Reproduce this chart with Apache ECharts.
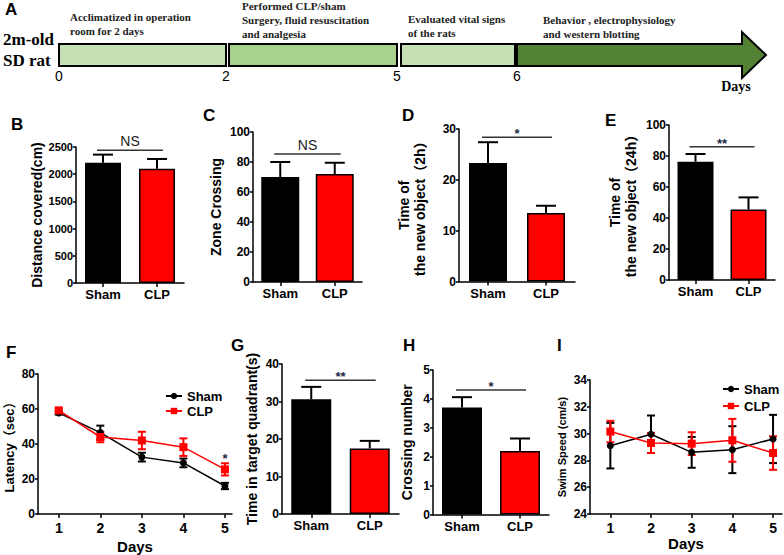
<!DOCTYPE html>
<html><head><meta charset="utf-8">
<script src="https://cdn.jsdelivr.net/npm/echarts@6/dist/echarts.min.js"></script>
<style>html,body{margin:0;padding:0;background:#fff}#c{width:784px;height:555px}</style>
</head><body><div id="c"></div>
<script>
// ---------------- DATA ----------------
const barCategories = ['Sham', 'CLP'];
const distanceMean = [2210, 2100];
const distanceSem = [150, 180];
const zoneMean = [70, 72];
const zoneSem = [10, 7.5];
const novel2hMean = [23.3, 13.5];
const novel2hSem = [4.1, 1.4];
const novel24hMean = [76.3, 45.5];
const novel24hSem = [5.0, 7.8];
const quadrantMean = [30.6, 17.5];
const quadrantSem = [3.3, 2.0];
const crossingMean = [3.7, 2.2];
const crossingSem = [0.36, 0.43];
const sigLabels = ['NS', 'NS', '*', '**', '**', '*'];
const sigLevels = [2440, 85.3, 28.4, 86, 35.7, 4.31];

const days = [1, 2, 3, 4, 5];
const latencySham = [57.8, 46.5, 32.5, 29.2, 16.0];
const latencyShamSem = [1.0, 4.0, 2.5, 2.5, 1.8];
const latencyClp = [59.2, 44.0, 42.0, 38.2, 25.5];
const latencyClpSem = [1.2, 3.0, 5.0, 5.0, 3.5];
const latencyStarDay = 5;
const speedSham = [29.1, 29.95, 28.6, 28.8, 29.6];
const speedShamSem = [1.7, 1.4, 1.15, 1.75, 1.8];
const speedClp = [30.15, 29.3, 29.25, 29.5, 28.55];
const speedClpSem = [0.8, 0.75, 0.85, 1.6, 1.25];

const timelineDays = ['0', '2', '5', '6'];
const stageText = [
  ['Acclimatized in operation', 'room for 2 days'],
  ['Performed CLP/sham', 'Surgery, fluid resuscitation', 'and analgesia'],
  ['Evaluated vital signs', 'of the rats'],
  ['Behavior , electrophysiology', 'and western blotting']
];

// ---------------- LAYOUT / STYLE ----------------
const FONT = "'Liberation Sans', Arial, 'Noto Sans CJK SC', sans-serif";
const SERIF = "'Liberation Serif', 'Times New Roman', serif";
const BLACK = '#000000', RED = '#ff0000';

const barPanels = [
  {mean: distanceMean, sem: distanceSem, max: 2500, step: 500, title: 'Distance covered(cm)', grid: {left: 76, top: 147, width: 108, height: 136}, bw: 36, gap: 28, tf: 11, nf: 14},
  {mean: zoneMean, sem: zoneSem, max: 100, step: 20, title: 'Zone Crossing', grid: {left: 253, top: 132, width: 109, height: 150}, bw: 38, gap: 29, tf: 12, nf: 14},
  {mean: novel2hMean, sem: novel2hSem, max: 30, step: 10, title: 'Time of\nthe new object（2h）', grid: {left: 459, top: 129, width: 116, height: 152.5}, bw: 38, gap: 31, tf: 12, nf: 14},
  {mean: novel24hMean, sem: novel24hSem, max: 100, step: 20, title: 'Time of\nthe new object（24h）', grid: {left: 669, top: 125, width: 106, height: 155}, bw: 36, gap: 30, tf: 12, nf: 14},
  {mean: quadrantMean, sem: quadrantSem, max: 40, step: 10, title: 'Time in target quadrant(s)', grid: {left: 282, top: 364, width: 117, height: 150}, bw: 40, gap: 22, tf: 12, nf: 14},
  {mean: crossingMean, sem: crossingSem, max: 5, step: 1, title: 'Crossing number', grid: {left: 433, top: 370, width: 116, height: 144.5}, bw: 40, gap: 18, tf: 12, nf: 14}
];

const grids = [], xAxes = [], yAxes = [], series = [];
const axisLineStyle = {color: BLACK, width: 1.5};

function yAxisCfg(gi, min, max, step, name, gap, tf, nf) {
  return {
    type: 'value', gridIndex: gi, min: min, max: max, interval: step,
    axisLine: {show: true, lineStyle: axisLineStyle},
    axisTick: {show: true, length: 3, lineStyle: axisLineStyle},
    axisLabel: {color: BLACK, fontSize: tf, fontWeight: 'bold', fontFamily: FONT, margin: 3, formatter: v => String(v)},
    splitLine: {show: false},
    name: name, nameLocation: 'middle', nameRotate: 90, nameGap: gap,
    nameTextStyle: {color: BLACK, fontSize: nf, fontWeight: 'bold', fontFamily: FONT, lineHeight: 16}
  };
}

function barErr(params, api) {
  const x = api.value(0), m = api.value(1), s = api.value(2);
  const p0 = api.coord([x, m]), p1 = api.coord([x, m + s]);
  const st = {stroke: BLACK, lineWidth: 2};
  return {type: 'group', children: [
    {type: 'line', shape: {x1: p0[0], y1: p0[1], x2: p1[0], y2: p1[1]}, style: st},
    {type: 'line', shape: {x1: p1[0] - 10, y1: p1[1], x2: p1[0] + 10, y2: p1[1]}, style: st}
  ]};
}

barPanels.forEach((p, i) => {
  grids.push(Object.assign({containLabel: false}, p.grid));
  xAxes.push({
    type: 'category', gridIndex: i, data: barCategories,
    axisLine: {show: true, lineStyle: axisLineStyle},
    axisTick: {show: true, alignWithLabel: true, length: 4, lineStyle: axisLineStyle},
    axisLabel: {color: BLACK, fontSize: 13, fontWeight: 'bold', fontFamily: FONT, margin: 5}
  });
  yAxes.push(yAxisCfg(i, 0, p.max, p.step, p.title, p.gap, p.tf, p.nf));
  series.push({
    type: 'bar', xAxisIndex: i, yAxisIndex: i, barWidth: p.bw, z: 2,
    data: p.mean.map((v, k) => ({value: v, itemStyle: {color: k === 0 ? BLACK : RED, borderColor: BLACK, borderWidth: 1.5}})),
    emphasis: {disabled: true}
  });
  series.push({
    type: 'custom', xAxisIndex: i, yAxisIndex: i, z: 3, renderItem: barErr,
    encode: {x: 0, y: 1},
    data: p.mean.map((v, k) => [k, v, p.sem[k]])
  });
  const label = sigLabels[i];
  const isNS = label === 'NS';
  series.push({
    type: 'custom', xAxisIndex: i, yAxisIndex: i, z: 3,
    encode: {x: 0, y: 1},
    data: [[0, sigLevels[i]]],
    renderItem: function (params, api) {
      const lvl = api.value(1);
      const a = api.coord([0, lvl]), b = api.coord([1, lvl]);
      return {type: 'group', children: [
        {type: 'line', shape: {x1: a[0] - 6, y1: a[1], x2: b[0] + 6, y2: a[1]}, style: {stroke: '#333', lineWidth: 1.5}},
        {type: 'text', x: (a[0] + b[0]) / 2, y: a[1] - (isNS ? 2 : -3),
          style: {text: label, align: 'center', verticalAlign: 'bottom', fill: isNS ? '#222' : '#1a2a44',
            fontSize: isNS ? 14 : 13, fontWeight: isNS ? 'normal' : 'bold', fontFamily: FONT}}
      ]};
    }
  });
});

// ---------------- LINE PANELS ----------------
function lineErr(color) {
  return function (params, api) {
    const x = api.value(0), m = api.value(1), s = api.value(2);
    const hi = api.coord([x, m + s]), lo = api.coord([x, m - s]);
    const st = {stroke: color, lineWidth: 2};
    return {type: 'group', children: [
      {type: 'line', shape: {x1: hi[0], y1: hi[1], x2: lo[0], y2: lo[1]}, style: st},
      {type: 'line', shape: {x1: hi[0] - 4, y1: hi[1], x2: hi[0] + 4, y2: hi[1]}, style: st},
      {type: 'line', shape: {x1: lo[0] - 4, y1: lo[1], x2: lo[0] + 4, y2: lo[1]}, style: st}
    ]};
  };
}

const linePanels = [
  {sham: latencySham, shamSem: latencyShamSem, clp: latencyClp, clpSem: latencyClpSem,
   grid: {left: 35, top: 374, width: 197, height: 140}, xmax: 5.17, ymin: 0, ymax: 80, step: 20,
   title: 'Latency（sec）', gap: 21, nf: 13, tf: 12, daysGap: 25},
  {sham: speedSham, shamSem: speedShamSem, clp: speedClp, clpSem: speedClpSem,
   grid: {left: 590, top: 380, width: 192, height: 134}, xmax: 5.22, ymin: 24, ymax: 34, step: 2,
   title: 'Swim Speed (cm/s)', gap: 19, nf: 11, tf: 12, daysGap: 20}
];

linePanels.forEach((p, j) => {
  const gi = barPanels.length + j;
  grids.push(Object.assign({containLabel: false}, p.grid));
  xAxes.push({
    type: 'value', gridIndex: gi, min: 0.5, max: p.xmax,
    axisLine: {show: true, lineStyle: axisLineStyle},
    axisTick: {show: true, length: 4, lineStyle: axisLineStyle, customValues: days},
    axisLabel: {color: BLACK, fontSize: 14, fontWeight: 'bold', fontFamily: FONT, margin: 7, customValues: days},
    splitLine: {show: false},
    name: 'Days', nameLocation: 'middle', nameGap: p.daysGap,
    nameTextStyle: {color: BLACK, fontSize: 15, fontWeight: 'bold', fontFamily: FONT}
  });
  yAxes.push(yAxisCfg(gi, p.ymin, p.ymax, p.step, p.title, p.gap, p.tf, p.nf));
  series.push({
    name: 'Sham', type: 'line', xAxisIndex: gi, yAxisIndex: gi, z: 4,
    data: days.map((d, k) => [d, p.sham[k]]),
    symbol: 'circle', symbolSize: 7, color: BLACK,
    lineStyle: {color: BLACK, width: 1.5}, itemStyle: {color: BLACK},
    emphasis: {disabled: true}
  });
  series.push({
    type: 'custom', xAxisIndex: gi, yAxisIndex: gi, z: 3, renderItem: lineErr(BLACK),
    encode: {x: 0, y: 1}, data: days.map((d, k) => [d, p.sham[k], p.shamSem[k]])
  });
  series.push({
    name: 'CLP', type: 'line', xAxisIndex: gi, yAxisIndex: gi, z: 5,
    data: days.map((d, k) => [d, p.clp[k]]),
    symbol: 'rect', symbolSize: 8, color: RED,
    lineStyle: {color: RED, width: 1.5}, itemStyle: {color: RED},
    emphasis: {disabled: true}
  });
  series.push({
    type: 'custom', xAxisIndex: gi, yAxisIndex: gi, z: 4, renderItem: lineErr(RED),
    encode: {x: 0, y: 1}, data: days.map((d, k) => [d, p.clp[k], p.clpSem[k]])
  });
});

// star above CLP at day 5 in latency panel
{
  const k = days.indexOf(latencyStarDay);
  series.push({
    type: 'custom', xAxisIndex: barPanels.length, yAxisIndex: barPanels.length, z: 6,
    encode: {x: 0, y: 1},
    data: [[latencyStarDay, latencyClp[k] + latencyClpSem[k]]],
    renderItem: function (params, api) {
      const c = api.coord([api.value(0), api.value(1)]);
      return {type: 'text', x: c[0], y: c[1] + 2,
        style: {text: '*', align: 'center', verticalAlign: 'bottom', fill: '#1a2a44', fontSize: 13, fontWeight: 'bold', fontFamily: FONT}};
    }
  });
}

const legendText = {color: BLACK, fontSize: 13, fontWeight: 'bold', fontFamily: FONT, lineHeight: 14};
const legends = [
  {left: 165, top: 389, orient: 'vertical', itemGap: 1, itemWidth: 16, itemHeight: 8, padding: 0, data: ['Sham', 'CLP'], textStyle: legendText, selectedMode: false},
  {left: 722, top: 382, orient: 'vertical', itemGap: 3, itemWidth: 16, itemHeight: 8, padding: 0, data: ['Sham', 'CLP'], textStyle: legendText, selectedMode: false}
];

// ---------------- PANEL A (schematic timeline) + letters ----------------
const stageFills = ['#C5E0B4', '#A9D18E', '#C5E0B4'];
const stageBoxes = [[59, 226], [229, 397], [401, 515]];
const dayLabelX = [59, 226, 397, 517];
const stageTextPos = [[70, 17], [242, 6], [408, 19], [543, 20]];
const graphic = [];
stageBoxes.forEach((b, i) => {
  graphic.push({type: 'rect', shape: {x: b[0], y: 44, width: b[1] - b[0], height: 22},
    style: {fill: stageFills[i], stroke: BLACK, lineWidth: 2}});
});
graphic.push({type: 'polygon', shape: {points: [[517, 44], [742, 44], [742, 32], [766, 55], [742, 78], [742, 66], [517, 66]]},
  style: {fill: '#548235', stroke: BLACK, lineWidth: 2}});
stageText.forEach((lines, i) => {
  lines.forEach((t, k) => {
    graphic.push({type: 'text', x: stageTextPos[i][0], y: stageTextPos[i][1] + k * 14,
      style: {text: t, fill: '#222', font: 'bold 11px ' + SERIF, align: 'left', verticalAlign: 'middle'}});
  });
});
timelineDays.forEach((d, i) => {
  graphic.push({type: 'text', x: dayLabelX[i], y: 76,
    style: {text: d, fill: BLACK, font: '14px ' + FONT, align: 'center', verticalAlign: 'middle'}});
});
graphic.push({type: 'text', x: 736, y: 86, style: {text: 'Days', fill: BLACK, font: 'bold 14px ' + SERIF, align: 'center', verticalAlign: 'middle'}});
graphic.push({type: 'text', x: 3, y: 39, style: {text: '2m-old', fill: BLACK, font: 'bold 17px ' + SERIF, align: 'left', verticalAlign: 'middle'}});
graphic.push({type: 'text', x: 3, y: 60, style: {text: 'SD rat', fill: BLACK, font: 'bold 17px ' + SERIF, align: 'left', verticalAlign: 'middle'}});

const letters = [['A', 5, 9], ['B', 11, 124], ['C', 203, 115], ['D', 402, 115], ['E', 605, 120],
  ['F', 6, 352], ['G', 231, 345], ['H', 403, 345], ['I', 557, 345]];
letters.forEach(l => {
  graphic.push({type: 'text', x: l[1], y: l[2], style: {text: l[0], fill: BLACK, font: 'bold 17px ' + FONT, align: 'left', verticalAlign: 'middle'}});
});

const chart = echarts.init(document.getElementById('c'), null, {renderer: 'svg'});
chart.setOption({
  animation: false,
  backgroundColor: '#fff',
  grid: grids, xAxis: xAxes, yAxis: yAxes,
  legend: legends,
  series: series,
  graphic: graphic
});
</script></body></html>
